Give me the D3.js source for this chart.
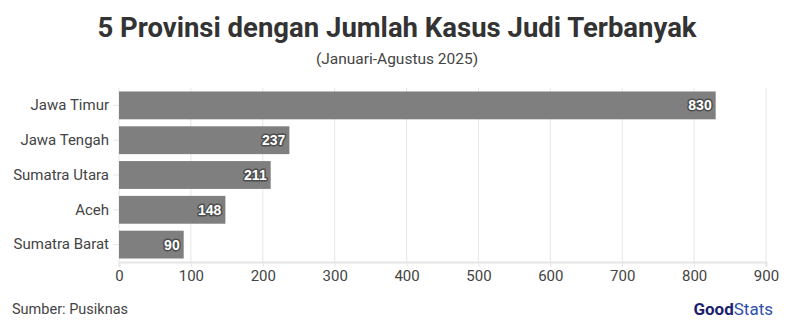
<!DOCTYPE html>
<html>
<head>
<meta charset="utf-8">
<script src="https://cdn.jsdelivr.net/npm/d3@7"></script>
<style>
  body { margin: 0; background: #fff; }
  svg text { font-family: Roboto, "Noto Sans", sans-serif; }
</style>
</head>
<body>
<div id="chart"></div>
<script>
const provinces = ['Jawa Timur', 'Jawa Tengah', 'Sumatra Utara', 'Aceh', 'Sumatra Barat']
const cases = [830, 237, 211, 148, 90]
const xTicks = [0, 100, 200, 300, 400, 500, 600, 700, 800, 900]

const width = 794
const height = 331
const margin = { top: 88, right: 28, bottom: 69, left: 119 }

const svg = d3.select('#chart')
  .append('svg')
  .attr('width', width)
  .attr('height', height)

const data = provinces.map((p, i) => ({ name: p, value: cases[i] }))

const x = d3.scaleLinear()
  .domain([0, 900])
  .range([margin.left, width - margin.right])

const y = d3.scaleBand()
  .domain(provinces)
  .range([margin.top, height - margin.bottom])
  .paddingInner(0.2)
  .paddingOuter(0.1)

// grid
svg.append('g')
  .selectAll('line')
  .data(xTicks)
  .join('line')
  .attr('x1', d => x(d))
  .attr('x2', d => x(d))
  .attr('y1', margin.top)
  .attr('y2', height - margin.bottom)
  .attr('stroke', '#e6e6e6')
  .attr('stroke-width', 1)

// bars
svg.append('g')
  .selectAll('rect')
  .data(data)
  .join('rect')
  .attr('x', x(0))
  .attr('y', d => y(d.name))
  .attr('width', d => x(d.value) - x(0))
  .attr('height', y.bandwidth())
  .attr('fill', '#7f7f7f')

// value labels
svg.append('g')
  .selectAll('text')
  .data(data)
  .join('text')
  .attr('x', d => x(d.value) - 4)
  .attr('y', d => y(d.name) + y.bandwidth() / 2)
  .attr('dy', '0.35em')
  .attr('text-anchor', 'end')
  .style('font-size', '14px')
  .style('font-weight', 'bold')
  .style('font-family', '"Liberation Sans", Arial, sans-serif')
  .attr('fill', '#fff')
  .attr('stroke', '#4d4d4d')
  .attr('stroke-width', 3)
  .attr('stroke-linejoin', 'round')
  .attr('paint-order', 'stroke')
  .text(d => d.value)

// x axis
const xAxis = svg.append('g')
  .attr('transform', `translate(0, ${height - margin.bottom})`)
  .call(d3.axisBottom(x).tickValues(xTicks).tickSize(5).tickPadding(3))
xAxis.select('.domain').attr('stroke', '#e6e6e6').attr('stroke-width', 2)
xAxis.selectAll('.tick line').attr('stroke', '#e6e6e6')
xAxis.selectAll('.tick text')
  .style('font-size', '15px')
  .style('font-family', 'Roboto, sans-serif')
  .attr('fill', '#444')

// y axis
const yAxis = svg.append('g')
  .attr('transform', `translate(${margin.left}, 0)`)
  .call(d3.axisLeft(y).tickSize(6).tickPadding(4))
yAxis.select('.domain').remove()
yAxis.selectAll('.tick line').attr('stroke', '#e6e6e6')
yAxis.selectAll('.tick text')
  .style('font-size', '15px')
  .style('font-family', 'Roboto, sans-serif')
  .attr('fill', '#444')

// titles
svg.append('text')
  .attr('x', width / 2)
  .attr('y', 37)
  .attr('text-anchor', 'middle')
  .style('font-size', '27.5px')
  .style('font-weight', 'bold')
  .attr('fill', '#333')
  .text('5 Provinsi dengan Jumlah Kasus Judi Terbanyak')

svg.append('text')
  .attr('x', width / 2)
  .attr('y', 64)
  .attr('text-anchor', 'middle')
  .style('font-size', '15.5px')
  .attr('fill', '#444')
  .text('(Januari-Agustus 2025)')

// source
svg.append('text')
  .attr('x', 12)
  .attr('y', 314)
  .style('font-size', '14.5px')
  .attr('fill', '#444')
  .text('Sumber: Pusiknas')

// logo
const logo = svg.append('text')
  .attr('x', 773)
  .attr('y', 315)
  .attr('text-anchor', 'end')
  .style('font-size', '17px')
logo.append('tspan').attr('fill', '#1c1f6e').style('font-weight', 'bold').text('Good')
logo.append('tspan').attr('fill', '#2f4fb0').text('Stats')
</script>
</body>
</html>
